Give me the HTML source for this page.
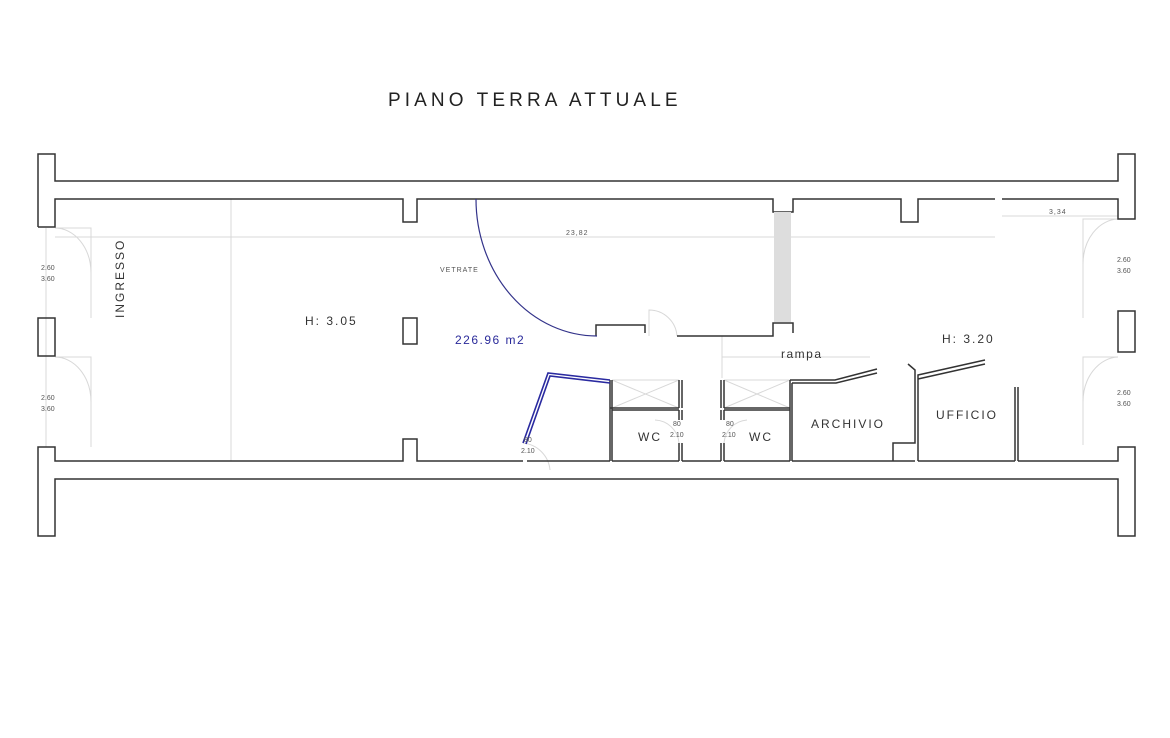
<!DOCTYPE html>
<html><head><meta charset="utf-8"><style>body{margin:0;background:#fff}svg{display:block}text{font-family:"Liberation Sans",sans-serif}</style></head>
<body>
<svg width="1170" height="738" viewBox="0 0 1170 738" xmlns="http://www.w3.org/2000/svg">
<rect width="1170" height="738" fill="#fff"/>
<text x="388" y="106" font-size="19" letter-spacing="4.1" fill="#222">PIANO TERRA ATTUALE</text>
<g fill="none" stroke="#d8d8d8" stroke-width="1">
<line x1="55" y1="237" x2="995" y2="237"/>
<line x1="1002" y1="216" x2="1118" y2="216"/>
<line x1="231" y1="199" x2="231" y2="461"/>
<line x1="46" y1="228" x2="46" y2="447"/>
<path d="M55,228 H91 V318 M55,357 H91 V447"/>
<path d="M55,228 A36,45 0 0 1 91,273 M55,357 A36,45 0 0 1 91,402"/>
<path d="M1118,219 H1083 V318 M1118,357 H1083 V445"/>
<path d="M1118,219 A36,45 0 0 0 1083,264 M1118,357 A36,45 0 0 0 1083,402"/>
<line x1="722" y1="336" x2="722" y2="378"/>
<line x1="722" y1="357" x2="870" y2="357"/>
<path d="M612,380 L679,408 M679,380 L612,408 M724,380 L790,408 M790,380 L724,408"/>
<line x1="612" y1="380" x2="679" y2="380"/><line x1="724" y1="380" x2="790" y2="380"/>
<path d="M649,336 V310 A28,28 0 0 1 677,336"/>
<path d="M523,443 A30,30 0 0 1 550,470"/>
<path d="M655,420 A25,25 0 0 1 679,443 M747,420 A25,25 0 0 0 724,443"/>
</g>
<g fill="none" stroke="#333" stroke-width="1.5">
<path d="M38,227 V154 H55 V181 H1118 V154 H1135 V219 H1118 V199 H1002"/>
<path d="M995,199 H918 V222 H901 V199 H793 V212 H773 V199 H417 V222 H403 V199 H55 V227 H38"/>
<path d="M523,461 H417 V439 H403 V461 H55 V447 H38 V536 H55 V479 H1118 V536 H1135 V447 H1118 V461 H1018"/>
<path d="M527,461 H610 M612,461 H679 M682,461 H721 M724,461 H790 M792,461 H915 M918,461 H1015"/>
<rect x="38" y="318" width="17" height="38"/>
<rect x="1118" y="311" width="17" height="41"/>
<rect x="403" y="318" width="14" height="26"/>
<path d="M596,336 V325 H645 V333"/>
<path d="M677,336 H773 V323 H793 V333"/>
<path d="M610,380 V461 M612,380 V461 M610,408 H679 M612,410 H679 M679,380 V408 M682,380 V408 M679,410 V420 M682,410 V420 M679,443 V461 M682,443 V461 M721,380 V408 M724,380 V408 M721,410 V420 M724,410 V420 M721,443 V461 M724,443 V461 M724,408 H790 M724,410 H790"/>
<path d="M790,380 V461 M792,383 V461 M790,380 H835 L877,369 M792,383 H836 L877,373"/>
<path d="M893,461 V443 H915 V370 L908,364 M918,461 V375 L985,360 M918,379 L985,364"/>
<path d="M1015,387 V461 M1018,387 V461"/>
</g>
<rect x="774" y="212" width="17" height="110" fill="#ddd"/>
<path d="M597,336 A121,137 0 0 1 476,199" fill="none" stroke="#33338a" stroke-width="1.2"/>
<path d="M523,443 L548,373 L610,380 M526,444 L550,376 L610,383" fill="none" stroke="#2a2aa0" stroke-width="1.6"/>
<g fill="#333" font-size="12" letter-spacing="2">
<text x="0" y="0" transform="translate(124,318) rotate(-90)">INGRESSO</text>
<text x="305" y="325">H: 3.05</text>
<text x="942" y="343">H: 3.20</text>
<text x="781" y="358" letter-spacing="1.5">rampa</text>
<text x="638" y="441">WC</text>
<text x="749" y="441">WC</text>
<text x="811" y="428">ARCHIVIO</text>
<text x="936" y="419">UFFICIO</text>
</g>
<text x="455" y="344" font-size="12" fill="#2a2a9a" letter-spacing="1.5">226.96 m2</text>
<g fill="#555" font-size="7">
<text x="440" y="272" letter-spacing="1">VETRATE</text>
<text x="566" y="235" letter-spacing="1">23,82</text>
<text x="1049" y="214" letter-spacing="1">3,34</text>
<text x="41" y="270">2.60</text><text x="41" y="281">3.60</text>
<text x="41" y="400">2.60</text><text x="41" y="411">3.60</text>
<text x="1117" y="262">2.60</text><text x="1117" y="273">3.60</text>
<text x="1117" y="395">2.60</text><text x="1117" y="406">3.60</text>
<text x="524" y="442">80</text><text x="521" y="453">2.10</text>
<text x="673" y="426">80</text><text x="670" y="437">2.10</text>
<text x="726" y="426">80</text><text x="722" y="437">2.10</text>
</g>
</svg>
</body></html>
